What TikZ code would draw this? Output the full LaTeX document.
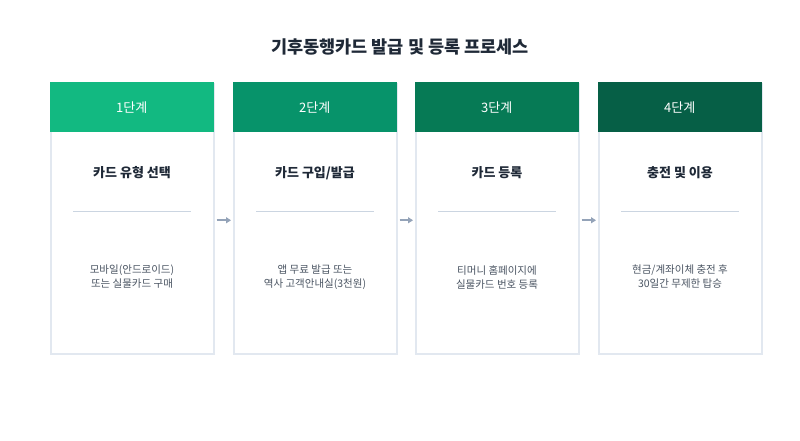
\documentclass[tikz,border=0pt]{standalone}
\usepackage{fontspec}
\setmainfont{Noto Sans CJK KR}
\usetikzlibrary{arrows.meta}
\definecolor{c1}{HTML}{12B981}
\definecolor{c2}{HTML}{07936A}
\definecolor{c3}{HTML}{067A55}
\definecolor{c4}{HTML}{065F46}
\definecolor{bd}{HTML}{E2E8F0}
\definecolor{sp}{HTML}{CBD5E1}
\definecolor{ar}{HTML}{94A3B8}
\definecolor{tx}{HTML}{1F2937}
\definecolor{gy}{HTML}{4B5563}
\begin{document}
\begin{tikzpicture}[x=1pt,y=-1pt,
 card/.style={draw=bd,line width=1.5pt,fill=white,minimum width=163pt,minimum height=270pt,anchor=north west,inner sep=0},
 head/.style={fill=#1,minimum width=164pt,minimum height=50pt,anchor=north west,inner sep=0,text=white,font=\fontsize{13}{15}\selectfont},
 ttl/.style={font=\bfseries\fontsize{13}{15}\selectfont,text=tx},
 body/.style={font=\fontsize{10.5}{14}\selectfont,text=gy,align=center},
 arr/.style={draw=ar,line width=2pt,-{Triangle[length=5pt,width=6pt]}}]
\useasboundingbox (0,0) rectangle (800,440);
\node[font=\bfseries\fontsize{17.5}{20}\selectfont,text=tx] (title) at (400,47) {기후동행카드 발급 및 등록 프로세스};
\foreach \i/\x/\c/\ti/\bo in {1/50/c1/{카드 유형 선택}/{모바일(안드로이드)\\또는 실물카드 구매},
 2/233/c2/{카드 구입/발급}/{앱 무료 발급 또는\\역사 고객안내실(3천원)},
 3/415/c3/{카드 등록}/{티머니 홈페이지에\\실물카드 번호 등록},
 4/598/c4/{충전 및 이용}/{현금/계좌이체 충전 후\\30일간 무제한 탑승}}{
 \node[card] (card\i) at (\x,83) {};
 \node[head=\c] (head\i) at (\x-0.5,82) {{\i}단계};
 \node[ttl] (t\i) at (\x+82,173) {\ti};
 \draw[sp,line width=1pt] (\x+23,211) -- (\x+141,211);
 \node[body] (b\i) at (\x+82,277) {\bo};
}
\foreach \a/\b in {1/2,2/3,3/4}{
 \draw[arr] ([xshift=2pt,yshift=-1.5pt]card\a.east) -- ([xshift=-2pt,yshift=-1.5pt]card\b.west);
}
\end{tikzpicture}
\end{document}
